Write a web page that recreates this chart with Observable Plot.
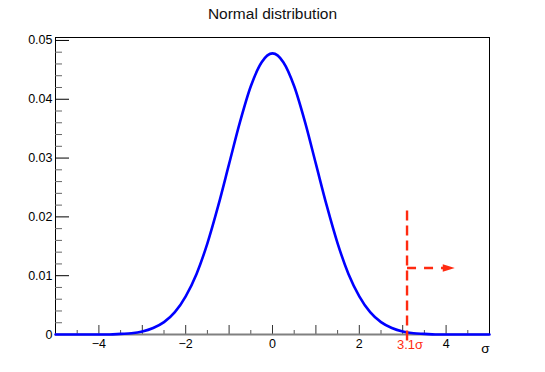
<!DOCTYPE html>
<html><head><meta charset="utf-8">
<script src="https://cdn.jsdelivr.net/npm/d3@7"></script>
<script src="https://cdn.jsdelivr.net/npm/@observablehq/plot@0.6"></script>
<style>body{margin:0;background:#fff;}</style>
</head><body><div id="chart"></div>
<script>
const title = "Normal distribution";
const xAxisLabel = "σ";
const sigmaX = [-5,-4.75,-4.5,-4.25,-4,-3.75,-3.5,-3.25,-3,-2.75,-2.5,-2.25,-2,-1.75,-1.5,-1.25,-1,-0.75,-0.5,-0.25,0,
  0.25,0.5,0.75,1,1.25,1.5,1.75,2,2.25,2.5,2.75,3,3.25,3.5,3.75,4,4.25,4.5,4.75,5];
const density = [0,0,0,0,0,0,0.0001,0.0002,0.0005,0.0011,0.0021,0.0038,0.0065,0.0103,0.0155,0.0219,0.0290,0.0361,0.0422,0.0463,0.0478,
  0.0463,0.0422,0.0361,0.0290,0.0219,0.0155,0.0103,0.0065,0.0038,0.0021,0.0011,0.0005,0.0002,0.0001,0,0,0,0,0,0];
const xLabelTicks = [-4,-2,0,2,4];
const xTickLabels = ["\u22124","\u22122","0","2","4"];
const xIntTicks = [-4,-3,-2,-1,0,1,2,3,4];
const xHalfTicks = [-4.5,-3.5,-2.5,-1.5,-0.5,0.5,1.5,2.5,3.5,4.5];
const yLabelTicks = [0,0.01,0.02,0.03,0.04,0.05];
const yTickLabels = ["0","0.01","0.02","0.03","0.04","0.05"];
const yMinorTicks = [0.002,0.004,0.006,0.008,0.012,0.014,0.016,0.018,0.022,0.024,0.026,0.028,0.032,0.034,0.036,0.038,0.042,0.044,0.046,0.048];
const cutSigma = [3.1];
const cutTop = [0.0215];
const cutBottom = [-0.001];
const cutLabel = ["3.1\u03c3"];
const arrowY = [0.0113];
const arrowEnd = [4.0];
const arrowTip = [4.2];

const red = "#ff2a10";
const data = sigmaX.map((x, i) => ({x, y: density[i]}));
const arrowHead = {draw(ctx) { ctx.moveTo(0, 0); ctx.lineTo(-12, -3.8); ctx.lineTo(-12, 3.8); ctx.closePath(); }};

const chart = Plot.plot({
  width: 545, height: 372,
  marginLeft: 55, marginRight: 56, marginTop: 37, marginBottom: 38,
  style: {fontFamily: "'Liberation Sans', Arial, sans-serif", fontSize: "12px", background: "white", color: "black"},
  x: {domain: [-5, 5]},
  y: {domain: [0, 0.0505]},
  marks: [
    Plot.frame({stroke: "black"}),
    Plot.axisY(yMinorTicks, {tickSize: -7, stroke: "#666", fill: "none", label: null}),
    Plot.axisY(yLabelTicks, {tickSize: -14, stroke: "black", fill: "none", label: null}),
    Plot.axisY(yLabelTicks, {tickSize: 0, tickPadding: 3, tickFormat: (d, i) => yTickLabels[i], label: null, fontSize: 12.5}),
    Plot.axisX(xHalfTicks, {tickSize: -4, stroke: "#555", fill: "none", label: null}),
    Plot.axisX(xIntTicks, {tickSize: -9, stroke: "#333", fill: "none", label: null}),
    Plot.axisX(xLabelTicks, {tickSize: 0, tickPadding: 5, tickFormat: (d, i) => xTickLabels[i], label: null, fontSize: 12.5}),
    Plot.ruleY([0], {stroke: "#808080", strokeWidth: 2}),
    Plot.line(data, {x: "x", y: "y", stroke: "#0000ff", strokeWidth: 2.6, curve: "monotone-x"}),
    Plot.link(cutSigma, {x1: d => d, x2: d => d, y1: (d, i) => cutBottom[i], y2: (d, i) => cutTop[i], stroke: red, strokeWidth: 2.4, strokeDasharray: "10,5", clip: false}),
    Plot.link(cutSigma, {x1: d => d, x2: (d, i) => arrowEnd[i], y1: (d, i) => arrowY[i], y2: (d, i) => arrowY[i], stroke: red, strokeWidth: 2.4, strokeDasharray: "9,8"}),
    Plot.dot(arrowTip, {x: d => d, y: (d, i) => arrowY[i], symbol: arrowHead, fill: red, stroke: "none", r: 5}),
    Plot.text(cutLabel, {x: (d, i) => cutSigma[i], frameAnchor: "bottom", dy: 14, dx: 3, text: d => d, fill: red, fontSize: 13}),
    Plot.text([xAxisLabel], {frameAnchor: "bottom-right", dy: 18, textAnchor: "end", text: d => d, fontSize: 13.5}),
    Plot.text([title], {frameAnchor: "top", dy: -30, text: d => d, fontSize: 15.5, fill: "#111"})
  ]
});
document.getElementById("chart").appendChild(chart);
</script>
</body></html>
